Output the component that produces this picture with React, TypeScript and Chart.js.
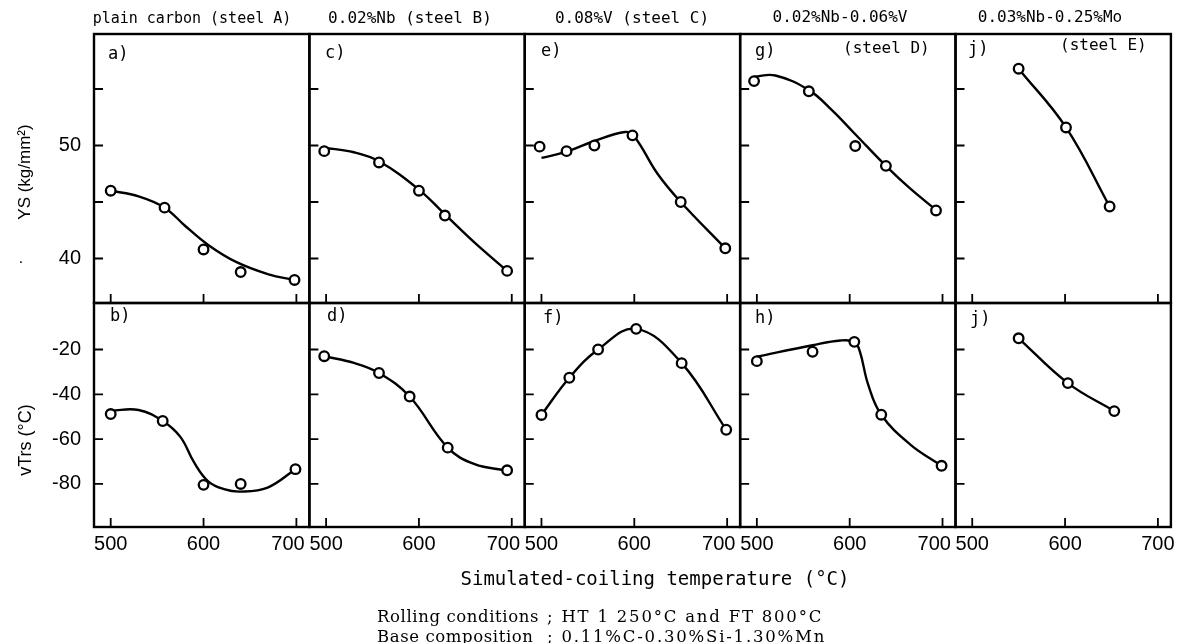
import React, { useEffect, useRef } from "react";
import { Chart, registerables } from "chart.js";

Chart.register(...registerables);

// ---------------- data ----------------
const X_TICKS = [500, 600, 700];
const YS_TICKS = [40, 45, 50, 55];
const VTRS_TICKS = [-80, -60, -40, -20];

const X_MIN = 482;
const X_MAX = 714;
const YS_MIN = 36.06;
const YS_MAX = 59.87;
const VTRS_MIN = -99.2;
const VTRS_MAX = 0.74;

const COLUMN_TITLES = [
  "plain carbon (steel A)",
  "0.02%Nb (steel B)",
  "0.08%V (steel C)",
  "0.02%Nb-0.06%V",
  "0.03%Nb-0.25%Mo",
];
const TOP_LABELS = ["a)", "c)", "e)", "g)", "j)"];
const BOTTOM_LABELS = ["b)", "d)", "f)", "h)", "j)"];

// steel A
const A_YS_T = [500, 558, 600, 640, 698];
const A_YS = [46.0, 44.5, 40.8, 38.8, 38.1];
const A_YS_FIT_T = [500, 530, 558, 580, 605, 635, 670, 698];
const A_YS_FIT = [46.0, 45.5, 44.5, 42.9, 41.2, 39.7, 38.6, 38.1];
const A_VT_T = [500, 556, 600, 640, 699];
const A_VT = [-48.8, -51.9, -80.4, -80.0, -73.4];
const A_VT_FIT_T = [500, 530, 556, 575, 590, 605, 622, 640, 669, 699];
const A_VT_FIT = [-47.3, -47.0, -51.9, -59.0, -70.5, -78.8, -82.3, -83.4, -81.6, -73.4];

// steel B
const B_YS_T = [498, 557, 600, 628, 695];
const B_YS = [49.5, 48.5, 46.0, 43.8, 38.9];
const B_YS_FIT_T = [498, 530, 557, 600, 628, 660, 695];
const B_YS_FIT = [49.8, 49.4, 48.6, 46.1, 43.9, 41.4, 38.9];
const B_VT_T = [498, 557, 590, 631, 695];
const B_VT = [-23.0, -30.5, -41.0, -63.8, -73.9];
const B_VT_FIT_T = [498, 530, 557, 590, 631, 660, 695];
const B_VT_FIT = [-23.0, -26.0, -30.5, -41.0, -63.8, -71.2, -74.0];

// steel C
const C_YS_T = [498, 527, 557, 598, 650, 698];
const C_YS = [49.9, 49.5, 50.0, 50.9, 45.0, 40.9];
const C_YS_FIT_T = [500, 527, 557, 590, 600, 625, 650, 698];
const C_YS_FIT = [48.9, 49.45, 50.4, 51.2, 50.8, 47.5, 45.0, 40.9];
const C_VT_T = [500, 530, 561, 602, 651, 699];
const C_VT = [-49.2, -32.6, -20.0, -10.8, -26.1, -55.8];

// steel D
const D_YS_T = [497, 556, 606, 639, 693];
const D_YS = [55.7, 54.8, 49.95, 48.2, 44.25];
const D_YS_FIT_T = [497, 520, 556, 580, 606, 639, 665, 693];
const D_YS_FIT = [56.1, 56.2, 54.9, 53.2, 51.0, 48.2, 46.2, 44.3];
const D_VT_T = [500, 560, 605, 634, 699];
const D_VT = [-25.2, -21.0, -16.6, -49.1, -71.9];
const D_VT_FIT_T = [500, 560, 590, 605, 611, 620, 634, 665, 699];
const D_VT_FIT = [-23.2, -18.1, -16.0, -16.6, -21.0, -35.8, -49.1, -62.3, -71.9];

// steel E
const E_YS_T = [550, 601, 648];
const E_YS = [56.8, 51.6, 44.6];
const E_VT_T = [550, 603, 653];
const E_VT = [-15.0, -35.0, -47.5];

type Panel = {
  col: number;
  row: "yTop" | "yBot";
  t: number[];
  v: number[];
  ft?: number[];
  fv?: number[];
};

const PANELS: Panel[] = [
  { col: 0, row: "yTop", t: A_YS_T, v: A_YS, ft: A_YS_FIT_T, fv: A_YS_FIT },
  { col: 0, row: "yBot", t: A_VT_T, v: A_VT, ft: A_VT_FIT_T, fv: A_VT_FIT },
  { col: 1, row: "yTop", t: B_YS_T, v: B_YS, ft: B_YS_FIT_T, fv: B_YS_FIT },
  { col: 1, row: "yBot", t: B_VT_T, v: B_VT, ft: B_VT_FIT_T, fv: B_VT_FIT },
  { col: 2, row: "yTop", t: C_YS_T, v: C_YS, ft: C_YS_FIT_T, fv: C_YS_FIT },
  { col: 2, row: "yBot", t: C_VT_T, v: C_VT },
  { col: 3, row: "yTop", t: D_YS_T, v: D_YS, ft: D_YS_FIT_T, fv: D_YS_FIT },
  { col: 3, row: "yBot", t: D_VT_T, v: D_VT, ft: D_VT_FIT_T, fv: D_VT_FIT },
  { col: 4, row: "yTop", t: E_YS_T, v: E_YS },
  { col: 4, row: "yBot", t: E_VT_T, v: E_VT },
];

// ---------------- styles ----------------
const MONO = "'DejaVu Sans Mono', 'Liberation Mono', monospace";
const SANS = "'Liberation Sans', Arial, sans-serif";
const SERIF = "'DejaVu Serif', 'Liberation Serif', serif";

const framePlugin = {
  id: "panelFrames",
  afterDatasetsDraw(chart: any) {
    const ctx = chart.ctx;
    const rows = [chart.scales.yTop, chart.scales.yBot];
    ctx.save();
    ctx.strokeStyle = "#000";
    ctx.lineCap = "butt";
    for (let i = 0; i < 5; i++) {
      const xs = chart.scales["x" + i];
      rows.forEach((ys: any) => {
        ctx.lineWidth = 2.4;
        ctx.strokeRect(xs.left, ys.top, xs.right - xs.left, ys.bottom - ys.top);
        ctx.lineWidth = 1.8;
        ctx.beginPath();
        ys.ticks.forEach((t: any) => {
          const py = ys.getPixelForValue(t.value);
          ctx.moveTo(xs.left, py);
          ctx.lineTo(xs.left + 9, py);
        });
        xs.ticks.forEach((t: any) => {
          const px = xs.getPixelForValue(t.value);
          ctx.moveTo(px, ys.bottom);
          ctx.lineTo(px, ys.bottom - 9);
        });
        ctx.stroke();
      });
    }
    ctx.restore();
  },
};

function xScale(i: number) {
  return {
    type: "linear",
    position: "bottom",
    stack: "x",
    stackWeight: 1,
    min: X_MIN,
    max: X_MAX,
    offset: false,
    grid: { display: false, drawTicks: false },
    border: { display: false },
    ticks: {
      color: "#000",
      font: { family: SANS, size: 20 },
      padding: 5,
      maxRotation: 0,
      autoSkip: false,
      // the last label of inner panels sits slightly left in the original to clear the next panel's "500"
      callback: (v: number) => (i < 4 && v === X_TICKS[X_TICKS.length - 1] ? String(v) + "   " : String(v)),
    },
    afterBuildTicks: (s: any) => {
      s.ticks = X_TICKS.map((value) => ({ value }));
    },
    afterFit: (s: any) => {
      s.height = 30;
      s.paddingLeft = 0;
      s.paddingRight = 0;
    },
  };
}

function yScale(min: number, max: number, ticks: number[], weight: number, stackWeight: number, labelEvery: number) {
  return {
    type: "linear",
    position: "left",
    stack: "y",
    stackWeight,
    weight,
    min,
    max,
    grid: { display: false, drawTicks: false },
    border: { display: false },
    ticks: {
      color: "#000",
      font: { family: SANS, size: 20 },
      padding: 13,
      autoSkip: false,
      callback: (v: number) => (Math.round(v) % labelEvery === 0 ? String(v) : ""),
    },
    afterBuildTicks: (s: any) => {
      s.ticks = ticks.map((value) => ({ value }));
    },
    afterFit: (s: any) => {
      s.width = 48;
      s.paddingTop = 0;
      s.paddingBottom = 0;
    },
  };
}

function buildDatasets() {
  const out: any[] = [];
  PANELS.forEach((p) => {
    const xAxisID = "x" + p.col;
    const ct = p.ft ?? p.t;
    const cv = p.fv ?? p.v;
    out.push({
      type: "line",
      xAxisID,
      yAxisID: p.row,
      data: ct.map((x, k) => ({ x, y: cv[k] })),
      borderColor: "#000",
      borderWidth: 2.4,
      pointRadius: 0,
      fill: false,
      tension: 0.4,
      order: 2,
    });
    out.push({
      type: "scatter",
      xAxisID,
      yAxisID: p.row,
      data: p.t.map((x, k) => ({ x, y: p.v[k] })),
      showLine: false,
      pointRadius: 4.8,
      pointBorderWidth: 2.3,
      pointBackgroundColor: "#fff",
      pointBorderColor: "#000",
      order: 1,
    });
  });
  return out;
}

const TITLE_POS = [
  [192, 18],
  [410, 18],
  [632, 18],
  [840, 17],
  [1050, 17],
];
const TITLE_SIZE = [15, 16, 16, 16, 16];
const TOP_LABEL_POS = [
  [108, 53],
  [325, 52],
  [541, 50],
  [755, 50],
  [968, 48],
];
const BOTTOM_LABEL_POS = [
  [110, 315],
  [327, 315],
  [543, 317],
  [755, 317],
  [970, 318],
];

function Txt(props: { x: number; y: number; font: string; size: number; children: any; anchor?: "left" | "center"; rotate?: boolean; ls?: number; weight?: number }) {
  const { x, y, font, size, children, anchor = "left", rotate = false, ls = 0, weight = 400 } = props;
  const tx = anchor === "center" ? "-50%" : "0";
  return (
    <div
      style={{
        position: "absolute",
        left: x,
        top: y,
        fontFamily: font,
        fontSize: size,
        fontWeight: weight,
        lineHeight: 1,
        whiteSpace: "pre",
        color: "#000",
        letterSpacing: ls,
        transform: `translate(${tx}, -50%)${rotate ? " rotate(-90deg)" : ""}`,
        transformOrigin: anchor === "center" ? "50% 50%" : "0 50%",
      }}
    >
      {children}
    </div>
  );
}

export default function App() {
  const canvasRef = useRef<HTMLCanvasElement | null>(null);

  useEffect(() => {
    if (!canvasRef.current) return;
    const scales: any = {
      yTop: yScale(YS_MIN, YS_MAX, YS_TICKS, 2, 269, 10),
      yBot: yScale(VTRS_MIN, VTRS_MAX, VTRS_TICKS, 1, 224, 20),
    };
    for (let i = 0; i < 5; i++) scales["x" + i] = xScale(i);
    const chart = new Chart(canvasRef.current, {
      type: "line",
      data: { datasets: buildDatasets() },
      options: {
        responsive: false,
        animation: false,
        events: [],
        layout: { padding: { left: 46, right: 6, top: 34, bottom: 86 } },
        plugins: { legend: { display: false }, tooltip: { enabled: false } },
        scales,
      } as any,
      plugins: [framePlugin],
    } as any);
    return () => chart.destroy();
  }, []);

  return (
    <div style={{ position: "absolute", left: 0, top: 0, width: 1178, height: 643, background: "#fff", overflow: "hidden" }}>
      <canvas ref={canvasRef} width={1178} height={643} style={{ position: "absolute", left: 0, top: 0, display: "block" }} />
      {COLUMN_TITLES.map((t, i) => (
        <Txt key={"t" + i} x={TITLE_POS[i][0]} y={TITLE_POS[i][1]} font={MONO} size={TITLE_SIZE[i]} anchor="center">
          {t}
        </Txt>
      ))}
      {TOP_LABELS.map((t, i) => (
        <Txt key={"a" + i} x={TOP_LABEL_POS[i][0]} y={TOP_LABEL_POS[i][1]} font={MONO} size={17}>
          {t}
        </Txt>
      ))}
      {BOTTOM_LABELS.map((t, i) => (
        <Txt key={"b" + i} x={BOTTOM_LABEL_POS[i][0]} y={BOTTOM_LABEL_POS[i][1]} font={MONO} size={17}>
          {t}
        </Txt>
      ))}
      <Txt x={843} y={48} font={MONO} size={16}>(steel D)</Txt>
      <Txt x={1060} y={45} font={MONO} size={16}>(steel E)</Txt>
      <Txt x={24} y={172} font={SANS} size={17} anchor="center" rotate>
        YS (kg/mm²)
      </Txt>
      <Txt x={21} y={262} font={SANS} size={16} anchor="center">
        ·
      </Txt>
      <Txt x={25} y={440} font={SANS} size={18} anchor="center" rotate>
        vTrs (°C)
      </Txt>
      <Txt x={655} y={578} font={MONO} size={19} anchor="center">
        Simulated-coiling temperature (°C)
      </Txt>
      <Txt x={377} y={617} font={SERIF} size={16.5} ls={0.6}>Rolling conditions</Txt>
      <Txt x={377} y={637} font={SERIF} size={16.5} ls={0.6}>Base composition</Txt>
      <Txt x={547} y={617} font={SERIF} size={16.5} ls={1.8}>; HT 1 250°C and FT 800°C</Txt>
      <Txt x={547} y={637} font={SERIF} size={16.5} ls={1.8}>; 0.11%C-0.30%Si-1.30%Mn</Txt>
    </div>
  );
}
